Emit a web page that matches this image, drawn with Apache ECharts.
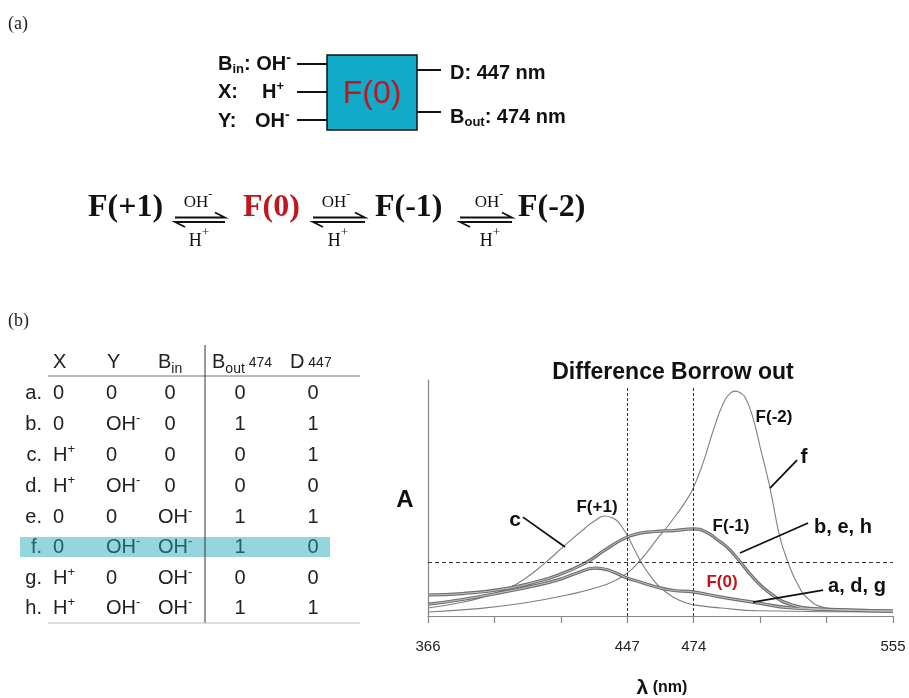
<!DOCTYPE html>
<html><head><meta charset="utf-8">
<script src="https://cdn.jsdelivr.net/npm/echarts@6/dist/echarts.min.js"></script>
<style>html,body{margin:0;padding:0;background:#fff}#c{width:909px;height:698px}</style>
</head><body><div id="c"></div>
<script>
// ---------- data ----------
const lambdaTicks = [366, 393, 420, 447, 474, 501, 528, 555];
const lambdaLabels = [366, 447, 474, 555];
const markerNm = [447, 474];
const thresholdA = 0.229;

const curveFplus1 = [[366,0.034],[380,0.058],[390,0.085],[397,0.11],[405,0.155],[413.6,0.225],[421.7,0.3],[429.8,0.372],[434,0.405],[437.9,0.424],[441,0.416],[443.2,0.4],[446.9,0.343],[450,0.28],[453,0.222],[456,0.175],[460,0.125],[466,0.078],[471,0.055],[478,0.042],[485,0.034],[500,0.022],[555,0.017]];
const curveFminus2 = [[366,0.017],[385,0.03],[405,0.055],[426,0.097],[436,0.125],[441,0.145],[447,0.182],[451,0.222],[455,0.27],[459,0.325],[463,0.375],[467,0.43],[471,0.49],[474,0.547],[478,0.655],[482,0.788],[486,0.9],[489,0.945],[491,0.953],[493,0.945],[495,0.925],[498,0.843],[501,0.716],[504,0.589],[506,0.49],[509,0.335],[512,0.237],[516,0.14],[521,0.068],[528,0.034],[536,0.025],[555,0.02]];
const curveBEH = [[366,0.089],[380,0.095],[397,0.115],[410,0.145],[419,0.174],[430,0.225],[438,0.28],[446,0.33],[452,0.35],[458,0.358],[466,0.362],[474,0.369],[479,0.356],[484,0.32],[487.5,0.292],[491.6,0.246],[498,0.165],[505,0.097],[514,0.047],[525,0.03],[555,0.021]];
const curveADG = [[366,0.05],[380,0.07],[397,0.102],[410,0.13],[418.8,0.153],[426,0.18],[434,0.203],[440,0.192],[446.9,0.161],[452.2,0.144],[460.3,0.119],[466,0.108],[473.7,0.102],[484.7,0.081],[498,0.059],[514,0.034],[538,0.025],[555,0.021]];
// leader lines [from, to] in (nm, A)
const leaders = [
  [[404.6,0.419],[421.7,0.292]],
  [[516.0,0.661],[505.0,0.542]],
  [[520.5,0.394],[492.8,0.267]],
  [[526.6,0.110],[498.1,0.059]]
];

// table
const rowLabels = ['a.','b.','c.','d.','e.','f.','g.','h.'];
const colX    = ['0','0','H+','H+','0','0','H+','H+'];
const colY    = ['0','OH-','0','OH-','0','OH-','0','OH-'];
const colBin  = ['0','0','0','0','OH-','OH-','OH-','OH-'];
const colBout = ['0','1','0','0','1','1','0','1'];
const colD    = ['0','1','1','0','1','0','0','1'];
const highlightRow = 5;

// ---------- helpers ----------
const SANS = "'Liberation Sans', Arial, sans-serif";
const SERIF = "'Liberation Serif', 'Times New Roman', serif";
const mctx = document.createElement('canvas').getContext('2d');
function measure(t, font){ mctx.font = font; return mctx.measureText(t).width; }
function seq(x, y, parts, align){
  const fonts = parts.map(p => (p.b ? 'bold ' : '') + p.s + 'px ' + (p.f || SANS));
  const ws = parts.map((p,i) => measure(p.t, fonts[i]));
  const total = ws.reduce((a,b)=>a+b,0);
  let cx = align === 'center' ? x - total/2 : (align === 'right' ? x - total : x);
  return parts.map((p,i) => {
    const el = {type:'text', x: cx, y: y + (p.dy||0), silent:true, z: 10,
      style:{text:p.t, font:fonts[i], fill:p.c || '#111', align:'left', verticalAlign:'middle'}};
    cx += ws[i];
    return el;
  });
}
function ion(str, size, supSize, supDy, color){
  const last = str[str.length-1];
  if (last === '+' || last === '-') {
    return [{t:str.slice(0,-1), s:size, c:color}, {t:last, s:supSize, dy:supDy, c:color}];
  }
  return [{t:str, s:size, c:color}];
}
function line(x1,y1,x2,y2,color,w){
  return {type:'line', silent:true, z:5, shape:{x1,y1,x2,y2}, style:{stroke:color, lineWidth:w}};
}
function poly(pts,color,w){
  return {type:'polyline', silent:true, z:5, shape:{points:pts}, style:{stroke:color, lineWidth:w, fill:null}};
}

const G = [];
// ---------- (a) ----------
G.push(...seq(8, 24, [{t:'(a)', s:18, f:SERIF, c:'#222'}]));
G.push({type:'rect', silent:true, z:4, shape:{x:327, y:55, width:90, height:75}, style:{fill:'#12aac9', stroke:'#111', lineWidth:1.5}});
G.push(...seq(372, 94, [{t:'F(0)', s:32, c:'#c0171f'}], 'center'));
G.push(line(297,64,327,64,'#111',2), line(297,92,327,92,'#111',2), line(297,120,327,120,'#111',2));
G.push(line(417,70,441,70,'#111',2), line(417,112,441,112,'#111',2));
G.push(...seq(218, 64, [{t:'B', s:20, b:1}, {t:'in', s:13, b:1, dy:5}, {t:': OH', s:20, b:1}, {t:'-', s:14, b:1, dy:-6}]));
G.push(...seq(218, 92, [{t:'X:', s:20, b:1}]));
G.push(...seq(262, 92, [{t:'H', s:20, b:1}, {t:'+', s:13, b:1, dy:-6}]));
G.push(...seq(218, 121, [{t:'Y:', s:20, b:1}]));
G.push(...seq(255, 121, [{t:'OH', s:20, b:1}, {t:'-', s:14, b:1, dy:-6}]));
G.push(...seq(450, 73, [{t:'D: 447 nm', s:20, b:1}]));
G.push(...seq(450, 117, [{t:'B', s:20, b:1}, {t:'out', s:13, b:1, dy:5}, {t:': 474 nm', s:20, b:1}]));

// equation
const eqTerms = [['F(+1)', 88, '#111'], ['F(0)', 243, '#c0171f'], ['F(-1)', 375, '#111'], ['F(-2)', 518, '#111']];
eqTerms.forEach(([t,x,c]) => G.push(...seq(x, 208, [{t, s:32, b:1, f:SERIF, c}])));
const arrows = [[175,225,198,199],[313,365,336,338],[460,512,489,490]];
arrows.forEach(([x1,x2,cOH,cH]) => {
  G.push(poly([[x1,217.5],[x2,217.5],[x2-10,212.5]],'#111',1.8));
  G.push(poly([[x2,222],[x1,222],[x1+10,227]],'#111',1.8));
  G.push(...seq(cOH, 203, [{t:'OH', s:17, f:SERIF}, {t:'-', s:12, f:SERIF, dy:-8}], 'center'));
  G.push(...seq(cH, 241, [{t:'H', s:18, f:SERIF}, {t:'+', s:13, f:SERIF, dy:-8}], 'center'));
});

// ---------- (b) table ----------
G.push(...seq(8, 321, [{t:'(b)', s:18, f:SERIF, c:'#222'}]));
const rowY = [393, 424, 455, 486, 517, 547, 578, 608];
G.push({type:'rect', silent:true, z:3, shape:{x:20, y:537, width:310, height:20}, style:{fill:'#95d5de'}});
const TC = '#222';
G.push(...seq(53, 362, [{t:'X', s:20, c:TC}]));
G.push(...seq(107, 362, [{t:'Y', s:20, c:TC}]));
G.push(...seq(158, 362, [{t:'B', s:20, c:TC}, {t:'in', s:14, c:TC, dy:7}]));
G.push(...seq(212, 362, [{t:'B', s:20, c:TC}, {t:'out', s:14, c:TC, dy:7}, {t:' 474', s:14, c:TC, dy:1}]));
G.push(...seq(290, 362, [{t:'D', s:20, c:TC}, {t:' 447', s:14, c:TC, dy:1}]));
rowLabels.forEach((lab, i) => {
  const y = rowY[i];
  const c = i === highlightRow ? '#1f5f66' : TC;
  G.push(...seq(42, y, [{t:lab, s:20, c}], 'right'));
  G.push(...seq(53, y, ion(colX[i], 20, 13, -6, c)));
  G.push(...seq(106, y, ion(colY[i], 20, 13, -6, c)));
  if (colBin[i] === '0') G.push(...seq(170, y, ion(colBin[i], 20, 13, -6, c), 'center'));
  else G.push(...seq(158, y, ion(colBin[i], 20, 13, -6, c)));
  G.push(...seq(240, y, [{t:colBout[i], s:20, c}], 'center'));
  G.push(...seq(313, y, [{t:colD[i], s:20, c}], 'center'));
});
G.push(line(48,376,360,376,'#777',1.2), line(205,345,205,623,'#333',1), line(48,623,360,623,'#bbb',1));

// ---------- chart annotations ----------
G.push(...seq(405, 500, [{t:'A', s:24, b:1}], 'center'));
G.push(...seq(662, 688, [{t:'λ', s:21, b:1}, {t:' (nm)', s:16, b:1}], 'center'));
G.push(...seq(515, 520, [{t:'c', s:21, b:1}], 'center'));
G.push(...seq(597, 507, [{t:'F(+1)', s:17, b:1}], 'center'));
G.push(...seq(774, 417, [{t:'F(-2)', s:17, b:1}], 'center'));
G.push(...seq(804, 457, [{t:'f', s:21, b:1}], 'center'));
G.push(...seq(731, 526, [{t:'F(-1)', s:17, b:1}], 'center'));
G.push(...seq(843, 527, [{t:'b, e, h', s:20, b:1}], 'center'));
G.push(...seq(722, 582, [{t:'F(0)', s:17, b:1, c:'#c0171f'}], 'center'));
G.push(...seq(857, 586, [{t:'a, d, g', s:20, b:1}], 'center'));

// ---------- chart ----------
const refLines = [
  [{coord:[markerNm[0],0], lineStyle:{color:'#333', width:1, type:[3,2]}}, {coord:[markerNm[0],0.97]}],
  [{coord:[markerNm[1],0], lineStyle:{color:'#333', width:1, type:[3,2]}}, {coord:[markerNm[1],0.97]}],
  [{coord:[366,thresholdA], lineStyle:{color:'#333', width:1, type:[4,3]}}, {coord:[555,thresholdA]}]
].concat(leaders.map(l => [{coord:l[0], lineStyle:{color:'#111', width:1.8, type:'solid'}}, {coord:l[1]}]));

const baseSeries = (name, data, ls, z) => ({
  name, type:'line', data, symbol:'none', smooth:0.5,
  lineStyle:ls, z: z || 2, silent:true, emphasis:{disabled:true}
});

const chart = echarts.init(document.getElementById('c'), null, {renderer:'canvas'});
chart.setOption({
  animation:false,
  backgroundColor:'#fff',
  title:{text:'Difference Borrow out', left:668, top:356, textAlign:'center',
    textStyle:{fontFamily:SANS, fontWeight:'bold', fontSize:23, color:'#111'}},
  grid:{left:428, top:380, width:465, height:236},
  xAxis:{type:'value', min:366, max:555,
    axisLine:{lineStyle:{color:'#888', width:1.2}},
    axisTick:{show:true, customValues:lambdaTicks, length:7, lineStyle:{color:'#888', width:1.2}},
    axisLabel:{customValues:lambdaLabels, fontSize:15, color:'#222', fontFamily:SANS, margin:23},
    splitLine:{show:false}},
  yAxis:{type:'value', min:0, max:1,
    axisLine:{show:true, lineStyle:{color:'#888', width:1.2}},
    axisTick:{show:false}, axisLabel:{show:false}, splitLine:{show:false}},
  series:[
    Object.assign(baseSeries('F(-2) f', curveFminus2, {color:'#808080', width:1.1}, 2), {
      markLine:{silent:true, symbol:['none','none'], label:{show:false}, animation:false, data:refLines}
    }),
    baseSeries('F(+1) c', curveFplus1, {color:'#808080', width:1.1}, 2),
    baseSeries('F(-1) b,e,h', curveBEH, {color:'#6e6e6e', width:3.2}, 3),
    baseSeries('F(-1) inner', curveBEH, {color:'#c4c4c4', width:1}, 4),
    baseSeries('F(0) a,d,g', curveADG, {color:'#6e6e6e', width:3.2}, 3),
    baseSeries('F(0) inner', curveADG, {color:'#c4c4c4', width:1}, 4)
  ],
  graphic:{elements:G}
});
</script></body></html>
